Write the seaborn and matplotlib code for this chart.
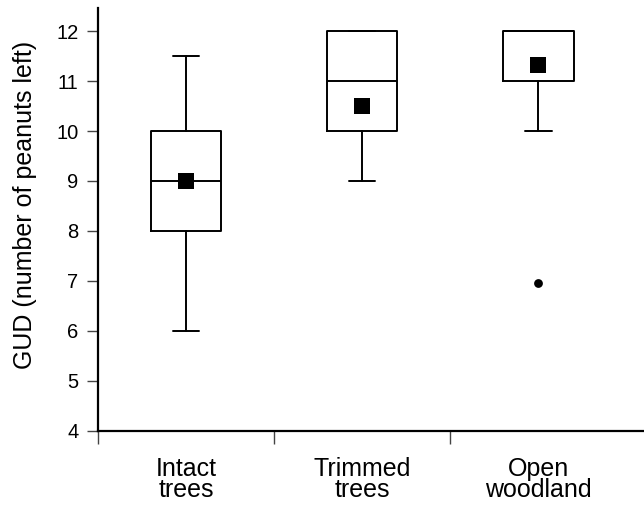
import matplotlib
matplotlib.use("Agg")
import matplotlib.pyplot as plt
import seaborn as sns
import pandas as pd

# box statistics
groups = ["Intact\ntrees", "Trimmed\ntrees", "Open\nwoodland"]
whislo = [6, 9, 10]
q1 = [8, 10, 11]
med = [9, 11, 12]
q3 = [10, 12, 12]
whishi = [11.5, 12, 12]
means = [9.0, 10.5, 11.33]
outlier_group = [2]
outlier_val = [6.95]

sns.set_style("ticks", {"text.color": "black", "axes.labelcolor": "black",
                        "xtick.color": "black", "ytick.color": "black"})
plt.rcParams['font.family'] = ['Liberation Sans', 'DejaVu Sans']

fig = plt.figure(figsize=(6.44, 5.08), dpi=100)
ax = fig.add_axes([0.152, 0.152, 0.848, 0.832])

stats = []
for i in range(len(groups)):
    stats.append(dict(whislo=whislo[i], q1=q1[i], med=med[i], q3=q3[i],
                      whishi=whishi[i], fliers=[]))

lw = 1.4
ax.bxp(stats, positions=range(len(groups)), widths=0.4, showfliers=False,
       boxprops=dict(color="black", linewidth=lw),
       whiskerprops=dict(color="black", linewidth=lw),
       capprops=dict(color="black", linewidth=lw),
       medianprops=dict(color="black", linewidth=lw),
       capwidths=0.15)

mean_df = pd.DataFrame({"x": range(len(groups)), "y": means})
sns.scatterplot(data=mean_df, x="x", y="y", marker="s", s=120, color="black",
                edgecolor="black", linewidth=0, ax=ax, zorder=5)
out_df = pd.DataFrame({"x": outlier_group, "y": outlier_val})
sns.scatterplot(data=out_df, x="x", y="y", marker="o", s=40, color="black",
                edgecolor="black", linewidth=0, ax=ax, zorder=5)

ax.set_xlim(-0.5, 2.60)
ax.set_ylim(4, 12.46)
ax.set_yticks(range(4, 13))
ax.set_xticks([-0.5, 0.5, 1.5])
ax.set_xticklabels([])
ax.set_xticks(range(len(groups)), minor=True)
ax.set_xticklabels(groups, minor=True, fontsize=18, linespacing=0.83,
                   color="black")
ax.tick_params(axis="x", which="minor", length=0, pad=19, labelcolor="black")
ax.tick_params(axis="x", which="major", length=9, width=1, color="#444444")
ax.tick_params(axis="y", length=8, width=1, labelsize=14.5, pad=6,
               color="#444444", labelcolor="black")
ax.set_xlabel("")
ax.set_ylabel("GUD (number of peanuts left)", fontsize=18, color="black")
ax.yaxis.set_label_coords(-0.112, 0.535)

for s in ["top", "right"]:
    ax.spines[s].set_visible(False)
for s in ["left", "bottom"]:
    ax.spines[s].set_linewidth(1.6)
    ax.spines[s].set_color("black")

fig.savefig("out.png", dpi=100)
